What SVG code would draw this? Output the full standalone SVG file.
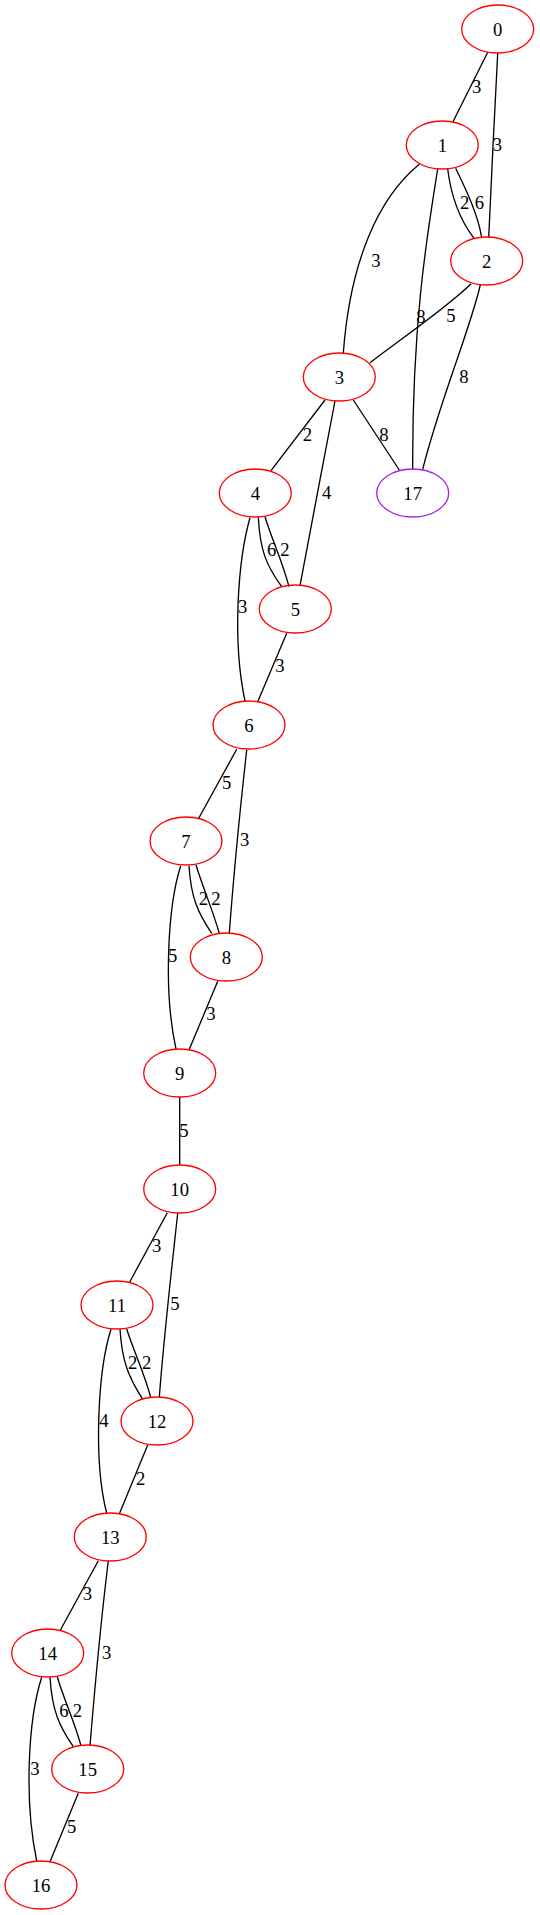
<svg xmlns="http://www.w3.org/2000/svg" width="540" height="1915" viewBox="0 0 540 1915">
<style>
.n ellipse{fill:none;stroke:#ff0000;stroke-width:1.33}
.p ellipse{fill:none;stroke:#a020f0;stroke-width:1.33}
text{font-family:"Liberation Serif","Times New Roman",serif;font-size:18.67px;fill:#000;text-anchor:middle}
#edges path{fill:none;stroke:#000;stroke-width:1.33}
</style>
<rect width="540" height="1915" fill="#fff"/>
<g id="edges">
<path d="M487.7,52.3 L453,121.7"/><text x="476.7" y="93">3</text>
<path d="M497.7,53.3 C495,110 491,180 488.7,237.7"/><text x="497.3" y="151">3</text>
<path d="M447.7,169 C451,196 460,220 474,238.3"/><text x="464.7" y="208.5">2</text>
<path d="M455.7,168.3 C466,190 478,214 481.7,237.7"/><text x="479.3" y="208.5">6</text>
<path d="M419.3,164.3 C378,198 350,262 343.3,353.3"/><text x="376" y="267">3</text>
<path d="M437.7,169 C428,230 412,320 412.7,469.3"/><text x="421" y="323">8</text>
<path d="M471,283.7 C450,305 405,336 370,362.7"/><text x="451" y="322">5</text>
<path d="M480.3,285 C470,330 440,400 422.7,469.3"/><text x="464" y="383">8</text>
<path d="M325,400 L271,470.7"/><text x="307.3" y="441">2</text>
<path d="M353.3,400 L399.3,470"/><text x="384" y="441">8</text>
<path d="M335,401 C324,460 310,530 300,585.7"/><text x="326.7" y="499">4</text>
<path d="M258.3,517.3 C260,550 266,565 281.7,586.7"/><text x="271.7" y="556">6</text>
<path d="M265,516.7 C272,540 282,560 289,586.7"/><text x="285" y="556">2</text>
<path d="M250,517.7 C238,560 232,640 245,701"/><text x="242.7" y="613">3</text>
<path d="M286.7,633.3 L257.7,701.7"/><text x="280" y="672">3</text>
<path d="M236.7,749.3 L198.3,819"/><text x="226.7" y="788.5">5</text>
<path d="M246.7,750 C240,810 234,870 229.3,933.3"/><text x="244.7" y="846">3</text>
<path d="M189,865.7 C191,898 198,913 211.7,933.3"/><text x="203.3" y="904.5">2</text>
<path d="M196,865 C203,888 212,908 219.3,933.3"/><text x="216" y="904.5">2</text>
<path d="M180.7,866 C168,905 163,990 176,1049"/><text x="172.7" y="962">5</text>
<path d="M217.7,981.3 L189.3,1049.3"/><text x="211" y="1020">3</text>
<path d="M179.7,1097 L179.7,1165"/><text x="184" y="1137">5</text>
<path d="M167.3,1212.7 L129.3,1282.7"/><text x="156.7" y="1252">3</text>
<path d="M177.7,1213.3 C171,1275 164,1335 159.3,1397.3"/><text x="175" y="1310">5</text>
<path d="M120,1329.3 C122,1362 129,1378 142.7,1399.3"/><text x="132.7" y="1369">2</text>
<path d="M126.7,1329 C134,1352 144,1372 150.7,1397.3"/><text x="146.7" y="1369">2</text>
<path d="M111,1329.3 C98,1370 93,1460 106.7,1513.3"/><text x="104" y="1427">4</text>
<path d="M147.7,1445 L119.3,1514"/><text x="140.7" y="1485">2</text>
<path d="M98.3,1560.7 L60,1630.7"/><text x="87.3" y="1600">3</text>
<path d="M108.3,1561 C101,1620 95,1685 90,1745.7"/><text x="106.7" y="1659">3</text>
<path d="M50,1677.3 C52,1710 59,1726 73.3,1746.7"/><text x="64" y="1717">6</text>
<path d="M57.3,1676.7 C64,1700 74,1720 81,1745.7"/><text x="77.3" y="1717">2</text>
<path d="M41.7,1677.3 C28,1720 24,1800 36.7,1861"/><text x="35" y="1774.5">3</text>
<path d="M78.3,1793.3 L50,1861.7"/><text x="71.7" y="1833">5</text>
</g>
<g id="node0" class="n"><ellipse cx="497.7" cy="29" rx="36" ry="24"/><text x="497.7" y="35.5">0</text></g>
<g id="node1" class="n"><ellipse cx="442.3" cy="145" rx="36" ry="24"/><text x="442.3" y="151.5">1</text></g>
<g id="node2" class="n"><ellipse cx="486.7" cy="261" rx="36" ry="24"/><text x="486.7" y="267.5">2</text></g>
<g id="node3" class="n"><ellipse cx="339.3" cy="377" rx="36" ry="24"/><text x="339.3" y="383.5">3</text></g>
<g id="node4" class="n"><ellipse cx="255.3" cy="493" rx="36" ry="24"/><text x="255.3" y="499.5">4</text></g>
<g id="node17" class="p"><ellipse cx="412.7" cy="493" rx="36" ry="24"/><text x="412.7" y="499.5">17</text></g>
<g id="node5" class="n"><ellipse cx="295.3" cy="609" rx="36" ry="24"/><text x="295.3" y="615.5">5</text></g>
<g id="node6" class="n"><ellipse cx="249" cy="725" rx="36" ry="24"/><text x="249" y="731.5">6</text></g>
<g id="node7" class="n"><ellipse cx="186" cy="841" rx="36" ry="24"/><text x="186" y="847.5">7</text></g>
<g id="node8" class="n"><ellipse cx="226.3" cy="957" rx="36" ry="24"/><text x="226.3" y="963.5">8</text></g>
<g id="node9" class="n"><ellipse cx="179.7" cy="1073" rx="36" ry="24"/><text x="179.7" y="1079.5">9</text></g>
<g id="node10" class="n"><ellipse cx="179.7" cy="1189" rx="36" ry="24"/><text x="179.7" y="1195.5">10</text></g>
<g id="node11" class="n"><ellipse cx="117" cy="1305" rx="36" ry="24"/><text x="117" y="1311.5">11</text></g>
<g id="node12" class="n"><ellipse cx="157" cy="1421" rx="36" ry="24"/><text x="157" y="1427.5">12</text></g>
<g id="node13" class="n"><ellipse cx="110.3" cy="1537" rx="36" ry="24"/><text x="110.3" y="1543.5">13</text></g>
<g id="node14" class="n"><ellipse cx="47.7" cy="1653" rx="36" ry="24"/><text x="47.7" y="1659.5">14</text></g>
<g id="node15" class="n"><ellipse cx="87.7" cy="1769" rx="36" ry="24"/><text x="87.7" y="1775.5">15</text></g>
<g id="node16" class="n"><ellipse cx="41" cy="1885" rx="36" ry="24"/><text x="41" y="1891.5">16</text></g>
</svg>
